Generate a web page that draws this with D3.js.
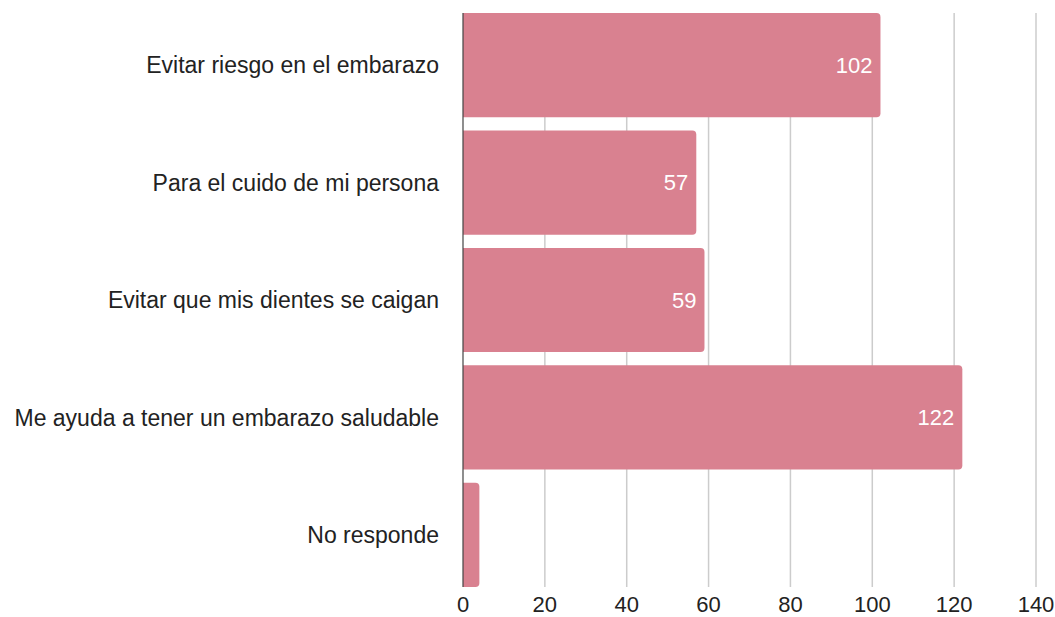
<!DOCTYPE html>
<html>
<head>
<meta charset="utf-8">
<script src="https://cdn.jsdelivr.net/npm/d3@7"></script>
<style>
  body { margin: 0; background: #fff; }
  svg { display: block; font-family: "Liberation Sans", Arial, sans-serif; }
</style>
</head>
<body>
<div id="chart"></div>
<script>
const categories = [
  'Evitar riesgo en el embarazo',
  'Para el cuido de mi persona',
  'Evitar que mis dientes se caigan',
  'Me ayuda a tener un embarazo saludable',
  'No responde'
];
const values = [102, 57, 59, 122, 4];
const xTicks = [0, 20, 40, 60, 80, 100, 120, 140];

const width = 1055;
const height = 617;
const margin = { top: 13, right: 19, bottom: 30, left: 463 };
const BAR_COLOR = '#d98190';
const RADIUS = 4;

const svg = d3.select('#chart').append('svg')
  .attr('width', width).attr('height', height);

const x = d3.scaleLinear().domain([0, 140]).range([margin.left, 1036]);
const y = d3.scaleBand().domain(categories)
  .range([margin.top, 587]).paddingInner(0.113).paddingOuter(0);

// grid
svg.append('g').attr('class', 'grid')
  .selectAll('line').data(xTicks.slice(1)).enter()
  .append('line')
  .attr('x1', d => x(d)).attr('x2', d => x(d))
  .attr('y1', margin.top).attr('y2', 587)
  .attr('stroke', '#cccccc').attr('stroke-width', 1.5);

// bars, rounded on the right end only
function barPath(d, i) {
  const x0 = x(0), x1 = x(d), y0 = y(categories[i]), h = y.bandwidth();
  const r = Math.min(RADIUS, (x1 - x0) / 2);
  return `M${x0},${y0}H${x1 - r}Q${x1},${y0} ${x1},${y0 + r}` +
    `V${y0 + h - r}Q${x1},${y0 + h} ${x1 - r},${y0 + h}H${x0}Z`;
}

svg.append('g').attr('class', 'bars')
  .selectAll('path').data(values).enter()
  .append('path')
  .attr('d', barPath)
  .attr('fill', BAR_COLOR);

// zero line
svg.append('line')
  .attr('x1', x(0)).attr('x2', x(0))
  .attr('y1', margin.top).attr('y2', 587)
  .attr('stroke', '#444').attr('stroke-width', 1.2);

// value labels (skip tiny bar)
svg.append('g').attr('class', 'values')
  .selectAll('text').data(values.map((v, i) => ({ v, c: categories[i] }))).enter()
  .filter(d => d.v > 10)
  .append('text')
  .attr('x', d => x(d.v) - 8)
  .attr('y', d => y(d.c) + y.bandwidth() / 2)
  .attr('dy', '0.36em')
  .attr('text-anchor', 'end')
  .attr('fill', '#fff')
  .style('font-size', '22px')
  .text(d => d.v);

// category labels
svg.append('g').attr('class', 'cats')
  .selectAll('text').data(categories).enter()
  .append('text')
  .attr('x', 439)
  .attr('y', d => y(d) + y.bandwidth() / 2)
  .attr('dy', '0.36em')
  .attr('text-anchor', 'end')
  .attr('fill', '#222')
  .style('font-size', '23px')
  .text(d => d);

// x tick labels
svg.append('g').attr('class', 'xlabels')
  .selectAll('text').data(xTicks).enter()
  .append('text')
  .attr('x', d => x(d))
  .attr('y', 612)
  .attr('text-anchor', 'middle')
  .attr('fill', '#222')
  .style('font-size', '22px')
  .text(d => d);
</script>
</body>
</html>
